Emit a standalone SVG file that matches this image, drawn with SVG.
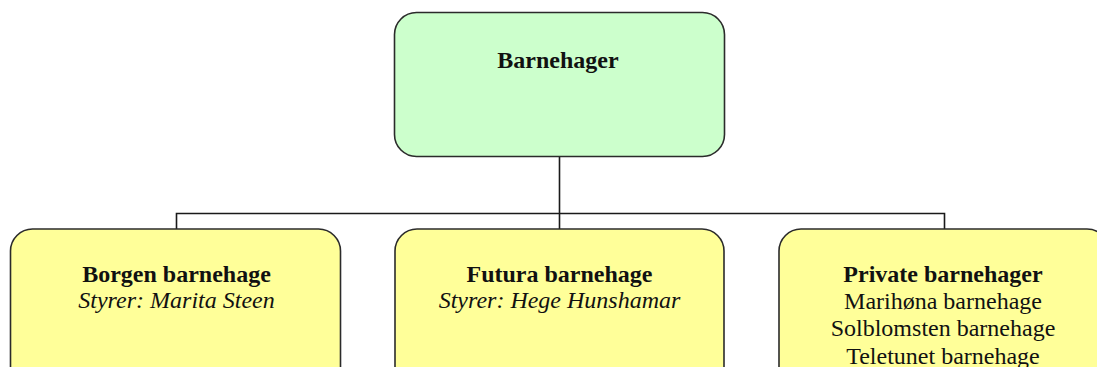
<svg xmlns="http://www.w3.org/2000/svg" width="1097" height="367" viewBox="0 0 1097 367">
<style>
.box{stroke:#2b2b2b;stroke-width:1.6}
.top{fill:#ccffcc}
.sub{fill:#ffff99}
.conn{fill:none;stroke:#1a1a1a;stroke-width:1.6}
text{font-family:"Liberation Serif","Times New Roman",serif;font-size:24px;fill:#111;text-anchor:middle}
.b{font-weight:bold}
.i{font-style:italic}
</style>
<rect width="1097" height="367" fill="#ffffff"/>
<g id="connectors">
<path class="conn" d="M559.5 157 V213.5 M176.5 229 V213.5 H944.5 V229 M559.5 213.5 V229"/>
</g>
<g id="node-barnehager">
<rect class="box top" x="394.5" y="12.5" width="330" height="144" rx="22" ry="22"/>
<text class="b" x="558" y="68">Barnehager</text>
</g>
<g id="node-borgen">
<rect class="box sub" x="10.5" y="229" width="330" height="160" rx="22" ry="22"/>
<text class="b" x="176.5" y="282">Borgen barnehage</text>
<text class="i" x="176.5" y="308">Styrer: Marita Steen</text>
</g>
<g id="node-futura">
<rect class="box sub" x="395" y="229" width="329" height="160" rx="22" ry="22"/>
<text class="b" x="559.5" y="282">Futura barnehage</text>
<text class="i" x="559.5" y="308">Styrer: Hege Hunshamar</text>
</g>
<g id="node-private">
<rect class="box sub" x="779" y="229" width="330" height="160" rx="22" ry="22"/>
<text class="b" x="943" y="282">Private barnehager</text>
<text x="943" y="308.5">Marihøna barnehage</text>
<text x="943" y="336">Solblomsten barnehage</text>
<text x="943" y="363.5">Teletunet barnehage</text>
</g>
</svg>
